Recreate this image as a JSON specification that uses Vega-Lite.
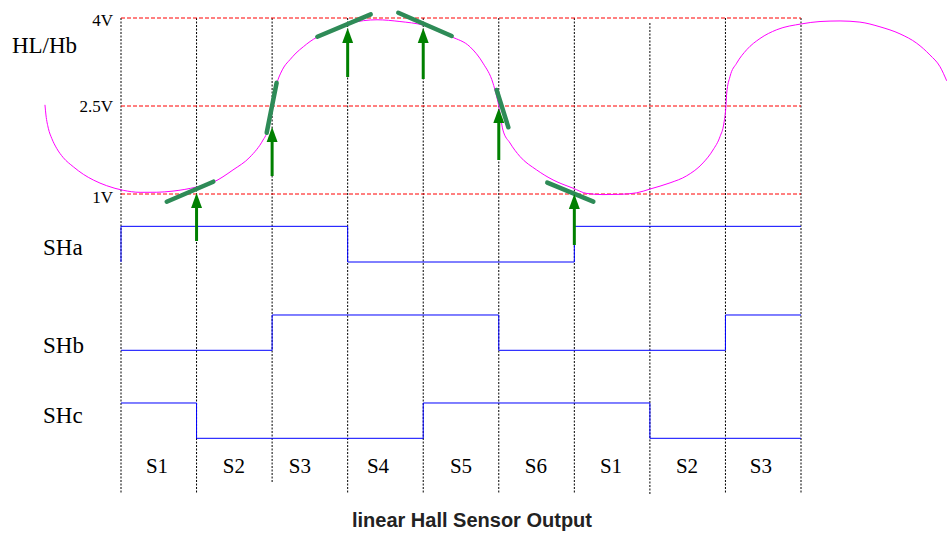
{
  "$schema": "https://vega.github.io/schema/vega-lite/v6.json",
  "width": 947,
  "height": 533,
  "autosize": {"type": "none"},
  "padding": 0,
  "background": "white",
  "config": {"view": {"stroke": null}},
  "datasets": {
    "curve": [
      {"t": -60.4, "v": 2.52}, {"t": -59.6, "v": 2.347}, {"t": -57.7, "v": 2.12}, {"t": -55.0, "v": 1.949},
      {"t": -51.1, "v": 1.779}, {"t": -45.8, "v": 1.619}, {"t": -37.9, "v": 1.465}, {"t": -29.9, "v": 1.336},
      {"t": -22.0, "v": 1.239}, {"t": -11.4, "v": 1.142}, {"t": 1.8, "v": 1.063},
      {"t": 15.1, "v": 1.029}, {"t": 28.3, "v": 1.03}, {"t": 41.3, "v": 1.05}, {"t": 60.1, "v": 1.12},
      {"t": 73.1, "v": 1.2}, {"t": 88.9, "v": 1.41}, {"t": 102.4, "v": 1.63}, {"t": 112.8, "v": 1.92},
      {"t": 115.7, "v": 2.04}, {"t": 120, "v": 2.5}, {"t": 124.1, "v": 2.91}, {"t": 126.8, "v": 3.06},
      {"t": 129.4, "v": 3.165}, {"t": 134.2, "v": 3.29}, {"t": 139.0, "v": 3.403}, {"t": 144.8, "v": 3.51},
      {"t": 150.1, "v": 3.599}, {"t": 155.4, "v": 3.67}, {"t": 166.8, "v": 3.778}, {"t": 181.8, "v": 3.91},
      {"t": 203.3, "v": 3.97}, {"t": 221.5, "v": 3.94}, {"t": 239.8, "v": 3.88}, {"t": 262.6, "v": 3.68},
      {"t": 277.1, "v": 3.51}, {"t": 287.5, "v": 3.23}, {"t": 295.4, "v": 2.89}, {"t": 300, "v": 2.5},
      {"t": 303.3, "v": 2.09}, {"t": 308.9, "v": 1.87}, {"t": 316.8, "v": 1.64}, {"t": 330.1, "v": 1.41},
      {"t": 343.1, "v": 1.24}, {"t": 358.9, "v": 1.10}, {"t": 369.8, "v": 1.01}, {"t": 382.8, "v": 0.99},
      {"t": 396.3, "v": 0.995}, {"t": 409.5, "v": 1.02}, {"t": 420.1, "v": 1.085}, {"t": 436, "v": 1.19},
      {"t": 449.2, "v": 1.31}, {"t": 462.2, "v": 1.53}, {"t": 470.1, "v": 1.75}, {"t": 475.7, "v": 1.98},
      {"t": 478.8, "v": 2.21}, {"t": 480.4, "v": 2.5}, {"t": 481, "v": 2.72}, {"t": 483.6, "v": 3.0},
      {"t": 488.9, "v": 3.23}, {"t": 496.9, "v": 3.46}, {"t": 507.4, "v": 3.65}, {"t": 520.7, "v": 3.8},
      {"t": 540.5, "v": 3.9}, {"t": 555.1, "v": 3.94}, {"t": 571, "v": 3.95}, {"t": 586.8, "v": 3.93},
      {"t": 602.7, "v": 3.85}, {"t": 618.6, "v": 3.73}, {"t": 631.9, "v": 3.57}, {"t": 642.4, "v": 3.37},
      {"t": 650.4, "v": 3.17}, {"t": 655.7, "v": 2.93}
    ],
    "tangents": [
      {"t1": 36.3, "v1": 0.869, "t2": 73.3, "v2": 1.210},
      {"t1": 115.7, "v1": 2.045, "t2": 123.6, "v2": 2.897},
      {"t1": 155.9, "v1": 3.681, "t2": 198.3, "v2": 4.063},
      {"t1": 220.2, "v1": 4.090, "t2": 262.6, "v2": 3.693},
      {"t1": 298.3, "v1": 2.773, "t2": 307.6, "v2": 2.137},
      {"t1": 338.5, "v1": 1.193, "t2": 375.1, "v2": 0.869}
    ],
    "arrows": [
      {"t": 60, "tip": 1.017, "base": 0.199},
      {"t": 120, "tip": 2.142, "base": 1.307},
      {"t": 180, "tip": 3.830, "base": 2.994},
      {"t": 240, "tip": 3.830, "base": 2.960},
      {"t": 300, "tip": 2.466, "base": 1.580},
      {"t": 360, "tip": 1.000, "base": 0.131}
    ],
    "signals": [
      {"sig": "SHa", "o": 1, "t": 0, "v": -0.159}, {"sig": "SHa", "o": 2, "t": 0, "v": 0.449},
      {"sig": "SHa", "o": 3, "t": 180, "v": 0.449}, {"sig": "SHa", "o": 4, "t": 180, "v": -0.159},
      {"sig": "SHa", "o": 5, "t": 360, "v": -0.159}, {"sig": "SHa", "o": 6, "t": 360, "v": 0.449},
      {"sig": "SHa", "o": 7, "t": 540, "v": 0.449},
      {"sig": "SHb", "o": 1, "t": 0, "v": -1.664}, {"sig": "SHb", "o": 2, "t": 120, "v": -1.664},
      {"sig": "SHb", "o": 3, "t": 120, "v": -1.062}, {"sig": "SHb", "o": 4, "t": 300, "v": -1.062},
      {"sig": "SHb", "o": 5, "t": 300, "v": -1.664}, {"sig": "SHb", "o": 6, "t": 480, "v": -1.664},
      {"sig": "SHb", "o": 7, "t": 480, "v": -1.062}, {"sig": "SHb", "o": 8, "t": 540, "v": -1.062},
      {"sig": "SHc", "o": 1, "t": 0, "v": -2.562}, {"sig": "SHc", "o": 2, "t": 60, "v": -2.562},
      {"sig": "SHc", "o": 3, "t": 60, "v": -3.164}, {"sig": "SHc", "o": 4, "t": 240, "v": -3.164},
      {"sig": "SHc", "o": 5, "t": 240, "v": -2.562}, {"sig": "SHc", "o": 6, "t": 420, "v": -2.562},
      {"sig": "SHc", "o": 7, "t": 420, "v": -3.164}, {"sig": "SHc", "o": 8, "t": 540, "v": -3.164}
    ],
    "vlines": [
      {"t": 0, "top": 4.0, "bottom": -4.113}, {"t": 60, "top": 4.0, "bottom": -4.113},
      {"t": 120, "top": 4.0, "bottom": -3.926}, {"t": 180, "top": 4.0, "bottom": -4.113},
      {"t": 240, "top": 4.0, "bottom": -4.113}, {"t": 300, "top": 4.0, "bottom": -4.113},
      {"t": 360, "top": 4.0, "bottom": -4.113}, {"t": 420, "top": 3.915, "bottom": -4.113},
      {"t": 480, "top": 4.0, "bottom": -4.113}, {"t": 540, "top": 4.0, "bottom": -4.113}
    ],
    "hlines": [
      {"v": 4.0, "t1": 0, "t2": 540}, {"v": 2.5, "t1": 0, "t2": 540}, {"v": 1.0, "t1": 0, "t2": 540}
    ],
    "bigLabels": [
      {"text": "HL/Hb", "t": -86.6, "v": 3.403},
      {"text": "SHa", "t": -61.9, "v": -0.04},
      {"text": "SHb", "t": -61.9, "v": -1.71},
      {"text": "SHc", "t": -61.9, "v": -2.91}
    ],
    "voltLabels": [
      {"text": "4V", "t": -6.4, "v": 3.864},
      {"text": "2.5V", "t": -6.4, "v": 2.398},
      {"text": "1V", "t": -6.4, "v": 0.852}
    ],
    "sectorLabels": [
      {"text": "S1", "t": 28.6, "v": -3.761}, {"text": "S2", "t": 89.7, "v": -3.761},
      {"text": "S3", "t": 142.1, "v": -3.761}, {"text": "S4", "t": 204.1, "v": -3.761},
      {"text": "S5", "t": 270.0, "v": -3.761}, {"text": "S6", "t": 329.5, "v": -3.761},
      {"text": "S1", "t": 389.1, "v": -3.761}, {"text": "S2", "t": 449.5, "v": -3.761},
      {"text": "S3", "t": 508.2, "v": -3.761}
    ],
    "titleLabel": [
      {"text": "linear Hall Sensor Output", "t": 278.7, "v": -4.676}
    ]
  },
  "layer": [
    {
      "data": {"name": "vlines"},
      "mark": {"type": "rule", "color": "#000000", "strokeWidth": 1, "strokeDash": [2, 1.5]},
      "encoding": {
        "x": {"field": "t", "type": "quantitative", "scale": {"domain": [-96.09, 655.94], "nice": false, "zero": false}, "axis": null},
        "y": {"field": "top", "type": "quantitative", "scale": {"domain": [-4.778, 4.307], "nice": false, "zero": false}, "axis": null},
        "y2": {"field": "bottom"}
      }
    },
    {
      "data": {"name": "hlines"},
      "mark": {"type": "rule", "color": "#ff0000", "strokeWidth": 1, "strokeDash": [4, 2]},
      "encoding": {
        "x": {"field": "t1", "type": "quantitative", "scale": {"domain": [-96.09, 655.94], "nice": false, "zero": false}, "axis": null},
        "x2": {"field": "t2"},
        "y": {"field": "v", "type": "quantitative", "scale": {"domain": [-4.778, 4.307], "nice": false, "zero": false}, "axis": null}
      }
    },
    {
      "data": {"name": "curve"},
      "mark": {"type": "line", "color": "#ff00ff", "strokeWidth": 1, "interpolate": "monotone"},
      "encoding": {
        "x": {"field": "t", "type": "quantitative", "scale": {"domain": [-96.09, 655.94], "nice": false, "zero": false}, "axis": null},
        "y": {"field": "v", "type": "quantitative", "scale": {"domain": [-4.778, 4.307], "nice": false, "zero": false}, "axis": null}
      }
    },
    {
      "data": {"name": "tangents"},
      "mark": {"type": "rule", "color": "#2e8b57", "strokeWidth": 4.5, "strokeCap": "round"},
      "encoding": {
        "x": {"field": "t1", "type": "quantitative", "scale": {"domain": [-96.09, 655.94], "nice": false, "zero": false}, "axis": null},
        "x2": {"field": "t2"},
        "y": {"field": "v1", "type": "quantitative", "scale": {"domain": [-4.778, 4.307], "nice": false, "zero": false}, "axis": null},
        "y2": {"field": "v2"}
      }
    },
    {
      "data": {"name": "signals"},
      "mark": {"type": "line", "color": "#0000ff", "strokeWidth": 1},
      "encoding": {
        "x": {"field": "t", "type": "quantitative", "scale": {"domain": [-96.09, 655.94], "nice": false, "zero": false}, "axis": null},
        "y": {"field": "v", "type": "quantitative", "scale": {"domain": [-4.778, 4.307], "nice": false, "zero": false}, "axis": null},
        "detail": {"field": "sig", "type": "nominal"},
        "order": {"field": "o", "type": "quantitative"}
      }
    },
    {
      "data": {"name": "arrows"},
      "mark": {"type": "rule", "color": "#008000", "strokeWidth": 3, "y2Offset": 8},
      "encoding": {
        "x": {"field": "t", "type": "quantitative", "scale": {"domain": [-96.09, 655.94], "nice": false, "zero": false}, "axis": null},
        "y": {"field": "base", "type": "quantitative", "scale": {"domain": [-4.778, 4.307], "nice": false, "zero": false}, "axis": null},
        "y2": {"field": "tip"}
      }
    },
    {
      "data": {"name": "arrows"},
      "mark": {"type": "point", "shape": "M0,-1L0.73,1L-0.73,1Z", "size": 225, "filled": true, "color": "#008000", "opacity": 1, "yOffset": 7.5},
      "encoding": {
        "x": {"field": "t", "type": "quantitative", "scale": {"domain": [-96.09, 655.94], "nice": false, "zero": false}, "axis": null},
        "y": {"field": "tip", "type": "quantitative", "scale": {"domain": [-4.778, 4.307], "nice": false, "zero": false}, "axis": null}
      }
    },
    {
      "data": {"name": "bigLabels"},
      "mark": {"type": "text", "font": "Liberation Serif", "fontSize": 23, "align": "left", "baseline": "alphabetic", "color": "#000000"},
      "encoding": {
        "x": {"field": "t", "type": "quantitative", "scale": {"domain": [-96.09, 655.94], "nice": false, "zero": false}, "axis": null},
        "y": {"field": "v", "type": "quantitative", "scale": {"domain": [-4.778, 4.307], "nice": false, "zero": false}, "axis": null},
        "text": {"field": "text", "type": "nominal"}
      }
    },
    {
      "data": {"name": "voltLabels"},
      "mark": {"type": "text", "font": "Liberation Serif", "fontSize": 17, "align": "right", "baseline": "alphabetic", "color": "#000000"},
      "encoding": {
        "x": {"field": "t", "type": "quantitative", "scale": {"domain": [-96.09, 655.94], "nice": false, "zero": false}, "axis": null},
        "y": {"field": "v", "type": "quantitative", "scale": {"domain": [-4.778, 4.307], "nice": false, "zero": false}, "axis": null},
        "text": {"field": "text", "type": "nominal"}
      }
    },
    {
      "data": {"name": "sectorLabels"},
      "mark": {"type": "text", "font": "Liberation Serif", "fontSize": 21, "align": "center", "baseline": "alphabetic", "color": "#000000"},
      "encoding": {
        "x": {"field": "t", "type": "quantitative", "scale": {"domain": [-96.09, 655.94], "nice": false, "zero": false}, "axis": null},
        "y": {"field": "v", "type": "quantitative", "scale": {"domain": [-4.778, 4.307], "nice": false, "zero": false}, "axis": null},
        "text": {"field": "text", "type": "nominal"}
      }
    },
    {
      "data": {"name": "titleLabel"},
      "mark": {"type": "text", "font": "Liberation Sans", "fontSize": 20, "fontWeight": "bold", "align": "center", "baseline": "alphabetic", "color": "#222222"},
      "encoding": {
        "x": {"field": "t", "type": "quantitative", "scale": {"domain": [-96.09, 655.94], "nice": false, "zero": false}, "axis": null},
        "y": {"field": "v", "type": "quantitative", "scale": {"domain": [-4.778, 4.307], "nice": false, "zero": false}, "axis": null},
        "text": {"field": "text", "type": "nominal"}
      }
    }
  ]
}
